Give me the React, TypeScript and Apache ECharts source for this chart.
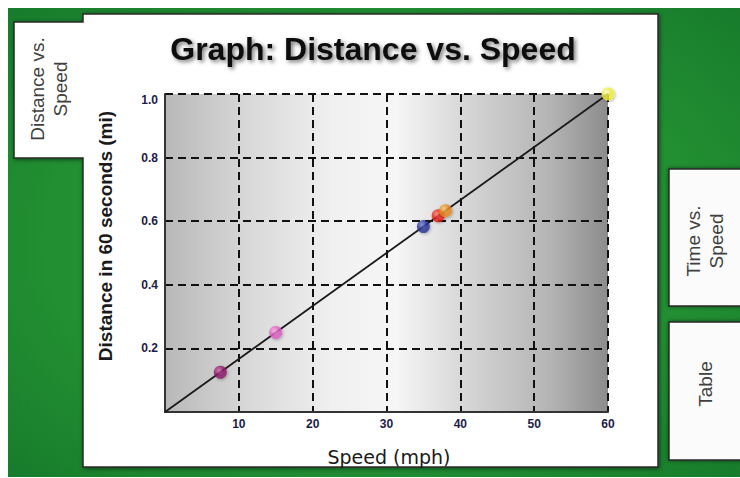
import React, { useEffect, useRef } from "react";
import * as echarts from "echarts";

const titleText = "Graph: Distance vs. Speed";
const xAxisTitle = "Speed (mph)";
const yAxisTitle = "Distance in 60 seconds (mi)";
const leftTab = "Distance vs.\nSpeed";
const rightTabs = ["Time vs.\nSpeed", "Table"];

// speed (mph), distance in 60 s (mi)
const speeds = [7.5, 15, 35, 37, 38, 60];
const distances = [0.125, 0.25, 0.583, 0.617, 0.633, 1.0];
const dotColors = ["#8e1a6a", "#e05ec4", "#2a3596", "#e8201a", "#e88a1e", "#eeee3a"];
const dotHighlights = ["#d070b0", "#ffb0ec", "#7a86e0", "#ff8a70", "#ffd080", "#ffffc8"];
const lineX = [0, 60];
const lineY = [0, 1.0];
const xTicks = [0, 10, 20, 30, 40, 50, 60];
const yTicks = [0, 0.2, 0.4, 0.6, 0.8, 1.0];

export default function App() {
  const ref = useRef<HTMLDivElement>(null);
  useEffect(() => {
    if (!ref.current) return;
    const chart = echarts.init(ref.current, null, { renderer: "svg" });
    const tabText = {
      fill: "#404040",
      fontFamily: "Liberation Sans, Arial, sans-serif",
      fontSize: 19,
      lineHeight: 23,
      align: "center",
      verticalAlign: "middle",
    };
    chart.setOption({
      animation: false,
      backgroundColor: "#ffffff",
      graphic: [
        {
          type: "rect",
          z: -20,
          shape: { x: 8, y: 8, width: 732, height: 469 },
          style: {
            fill: {
              type: "radial",
              x: 0.5,
              y: 0.5,
              r: 0.75,
              colorStops: [
                { offset: 0, color: "#2a9a3a" },
                { offset: 0.6, color: "#228f32" },
                { offset: 1, color: "#15782a" },
              ],
            },
          },
        },
        {
          type: "polygon",
          z: -15,
          shape: {
            points: [
              [14, 22], [83, 22], [83, 14], [658, 14], [658, 467], [83, 467], [83, 158], [14, 158],
            ],
          },
          style: {
            fill: "#ffffff",
            stroke: "#2a2a2a",
            lineWidth: 1.5,
            shadowBlur: 4,
            shadowColor: "rgba(0,0,0,0.5)",
            shadowOffsetX: 1,
            shadowOffsetY: 1,
          },
        },
        {
          type: "rect",
          z: -15,
          shape: { x: 669, y: 169, width: 80, height: 137 },
          style: { fill: "#fbfbfb", stroke: "#2a2a2a", lineWidth: 1.5, shadowBlur: 4, shadowColor: "rgba(0,0,0,0.5)" },
        },
        {
          type: "rect",
          z: -15,
          shape: { x: 669, y: 322, width: 80, height: 138 },
          style: { fill: "#fbfbfb", stroke: "#2a2a2a", lineWidth: 1.5, shadowBlur: 4, shadowColor: "rgba(0,0,0,0.5)" },
        },
        {
          type: "text",
          z: 10,
          x: 49,
          y: 89,
          rotation: Math.PI / 2,
          style: { ...tabText, text: leftTab },
        },
        {
          type: "text",
          z: 10,
          x: 705,
          y: 241,
          rotation: Math.PI / 2,
          style: { ...tabText, text: rightTabs[0] },
        },
        {
          type: "text",
          z: 10,
          x: 705,
          y: 384,
          rotation: Math.PI / 2,
          style: { ...tabText, text: rightTabs[1] },
        },
        {
          type: "text",
          z: 10,
          x: 373,
          y: 49,
          style: {
            text: titleText,
            fill: "#111111",
            fontFamily: "Liberation Sans, Arial, sans-serif",
            fontWeight: "bold",
            fontSize: 32,
            align: "center",
            verticalAlign: "middle",
            textShadowColor: "rgba(0,0,0,0.55)",
            textShadowBlur: 4,
            textShadowOffsetX: 2,
            textShadowOffsetY: 2,
          },
        },
        {
          type: "text",
          z: 10,
          x: 105,
          y: 236,
          rotation: Math.PI / 2,
          style: {
            text: yAxisTitle,
            fill: "#1a1a1a",
            fontFamily: "Liberation Sans, Arial, sans-serif",
            fontWeight: "bold",
            fontSize: 19,
            align: "center",
            verticalAlign: "middle",
          },
        },
        {
          type: "text",
          z: 10,
          x: 389,
          y: 457,
          style: {
            text: xAxisTitle,
            fill: "#1a1a1a",
            fontFamily: "DejaVu Sans, sans-serif",
            fontSize: 19,
            align: "center",
            verticalAlign: "middle",
          },
        },
      ],
      grid: {
        left: 165,
        top: 94,
        width: 443,
        height: 318,
        show: true,
        borderWidth: 0,
        backgroundColor: {
          type: "linear",
          x: 0,
          y: 0,
          x2: 1,
          y2: 0,
          colorStops: [
            { offset: 0, color: "#b8b8b8" },
            { offset: 0.2, color: "#dadada" },
            { offset: 0.38, color: "#f0f0f0" },
            { offset: 0.52, color: "#f6f6f6" },
            { offset: 0.7, color: "#d2d2d2" },
            { offset: 0.87, color: "#b4b4b4" },
            { offset: 1, color: "#8c8c8c" },
          ],
        },
      },
      xAxis: {
        type: "value",
        min: xTicks[0],
        max: xTicks[xTicks.length - 1],
        interval: 10,
        axisLine: { show: true, onZero: false, lineStyle: { color: "#333333", width: 2 } },
        axisTick: { show: false },
        axisLabel: {
          showMinLabel: false,
          margin: 6,
          color: "#1c1c48",
          fontFamily: "Liberation Sans, Arial, sans-serif",
          fontWeight: "bold",
          fontSize: 12,
        },
        splitLine: {
          show: true,
          showMinLine: false,
          lineStyle: { color: "#111111", width: 2, type: [8, 5] },
        },
      },
      yAxis: {
        type: "value",
        min: yTicks[0],
        max: yTicks[yTicks.length - 1],
        interval: 0.2,
        axisLine: { show: true, onZero: false, lineStyle: { color: "#333333", width: 2 } },
        axisTick: { show: false },
        axisLabel: {
          showMinLabel: false,
          margin: 7,
          color: "#1c1c48",
          fontFamily: "Liberation Sans, Arial, sans-serif",
          fontWeight: "bold",
          fontSize: 12,
          verticalAlignMaxLabel: "top",
          formatter: (v: number) => v.toFixed(1),
        },
        splitLine: {
          show: true,
          showMinLine: false,
          lineStyle: { color: "#111111", width: 2, type: [8, 5] },
        },
      },
      series: [
        {
          type: "line",
          data: lineX.map((x, i) => [x, lineY[i]]),
          showSymbol: false,
          symbol: "none",
          lineStyle: { color: "#1a1a1a", width: 1.8 },
          z: 3,
          silent: true,
        },
        {
          type: "scatter",
          z: 5,
          symbolSize: 13,
          data: speeds.map((s, i) => ({
            value: [s, distances[i]],
            itemStyle: {
              color: {
                type: "radial",
                x: 0.38,
                y: 0.35,
                r: 0.65,
                colorStops: [
                  { offset: 0, color: dotHighlights[i] },
                  { offset: 0.55, color: dotColors[i] },
                  { offset: 1, color: dotColors[i] },
                ],
              },
              shadowBlur: 3,
              shadowColor: "rgba(0,0,0,0.35)",
              shadowOffsetX: 1,
              shadowOffsetY: 1,
            },
          })),
        },
      ],
    });
    return () => chart.dispose();
  }, []);
  return (
    <div
      ref={ref}
      style={{ position: "absolute", left: 0, top: 0, width: 740, height: 478 }}
    />
  );
}
